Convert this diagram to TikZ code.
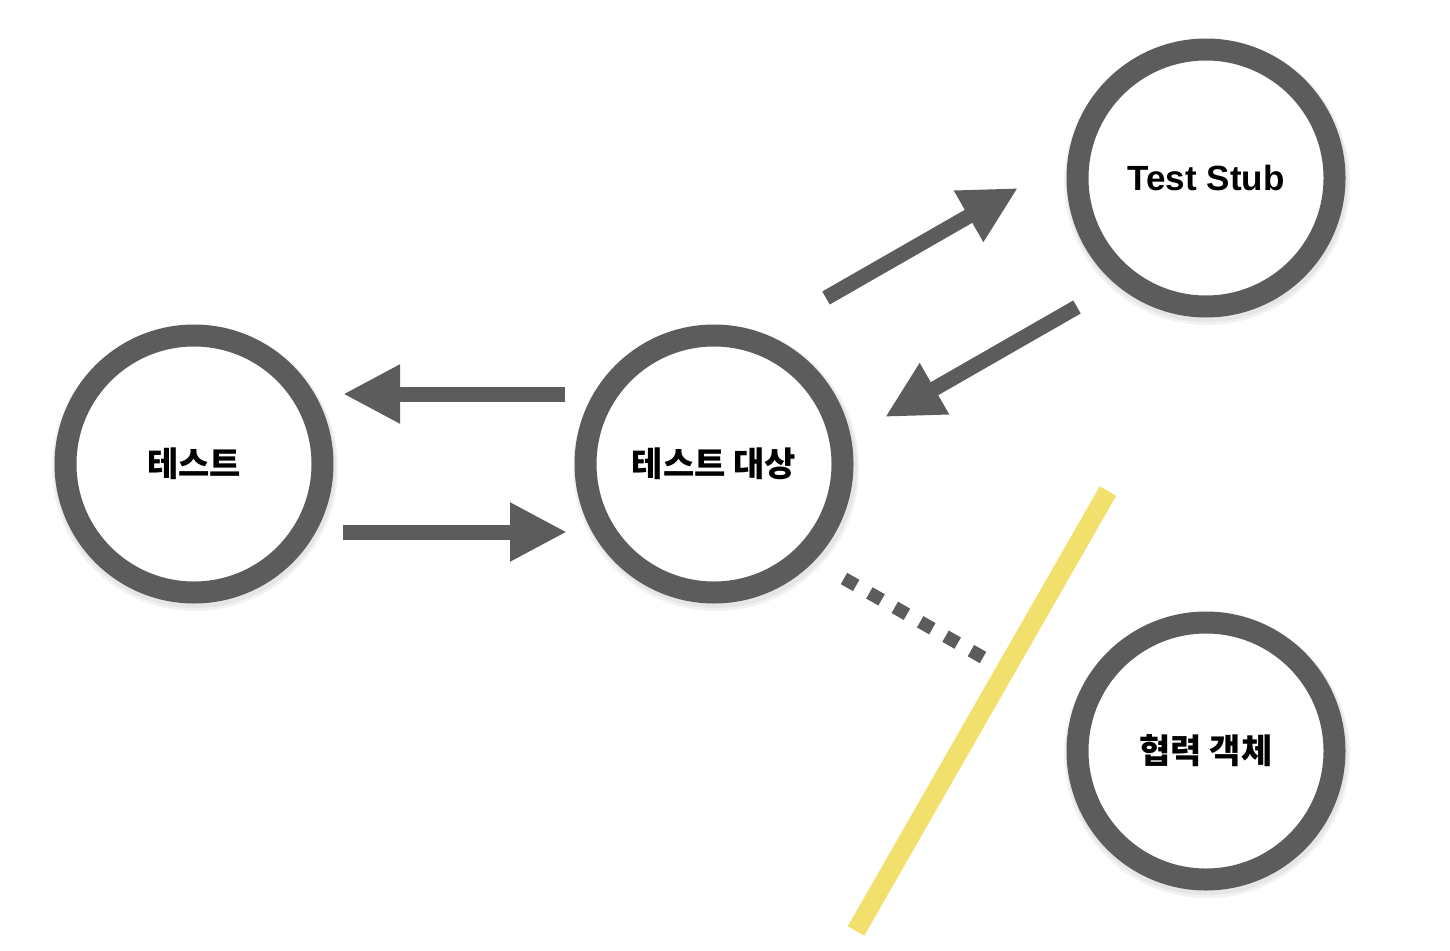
\documentclass[tikz,border=0pt]{standalone}
\usepackage{fontspec}
\setmainfont{Liberation Sans}
\newfontfamily\krfont{Noto Sans CJK KR}
\usetikzlibrary{arrows.meta}
\definecolor{ringgray}{HTML}{5C5C5C}
\definecolor{baryellow}{HTML}{F1E06C}
\tikzset{
  ring/.style={circle, draw=ringgray, line width=22pt, fill=white, minimum size=257pt, inner sep=0pt},
  krlabel/.style={font=\krfont\bfseries\fontsize{34}{40}\selectfont},
  enlabel/.style={font=\bfseries\fontsize{35}{42}\selectfont},
  bigarrow/.style={draw=ringgray, line width=15pt, -{Triangle[length=57pt,width=55pt]}},
  shadowring/.style={fill=black, opacity=0.05},
  dotline/.style={draw=ringgray, line width=13pt, dash pattern=on 14pt off 15.2pt},
  yellowbar/.style={draw=baryellow, line width=19pt}
}
\begin{document}
\begin{tikzpicture}[x=1pt,y=-1pt]
\useasboundingbox (0,0) rectangle (1450,950);
% soft shadows
\foreach \cx/\cy in {194/464, 715/464, 1206/178, 1206/751}{
  \fill[shadowring] (\cx+1,\cy+4) circle (143);
  \fill[shadowring] (\cx+1,\cy+3) circle (141);
}
\node[ring, krlabel] (test) at (194,464) {테스트};
\node[ring, krlabel] (sut) at (714,464) {테스트 대상};
\node[ring, enlabel] (stub) at (1206,178) {Test Stub};
\node[ring, krlabel] (collab) at (1206,751) {협력 객체};
% arrow endpoints
\coordinate (a1s) at (565,394);
\coordinate (a1e) at (343,394);
\coordinate (a2s) at (343,532);
\coordinate (a2e) at (567,532);
\coordinate (a3s) at (826,298);
\coordinate (a3e) at (1018,188);
\coordinate (a4s) at (1077,307);
\coordinate (a4e) at (885,417);
\coordinate (ds) at (844,578.5);
\coordinate (de) at (983,657.5);
\coordinate (ys) at (1108,491);
\coordinate (ye) at (856,931);
\draw[bigarrow] (a1s) -- (a1e);
\draw[bigarrow] (a2s) -- (a2e);
\draw[bigarrow] (a3s) -- (a3e);
\draw[bigarrow] (a4s) -- (a4e);
\draw[dotline] (ds) -- (de);
\draw[yellowbar] (ys) -- (ye);
\end{tikzpicture}
\end{document}
